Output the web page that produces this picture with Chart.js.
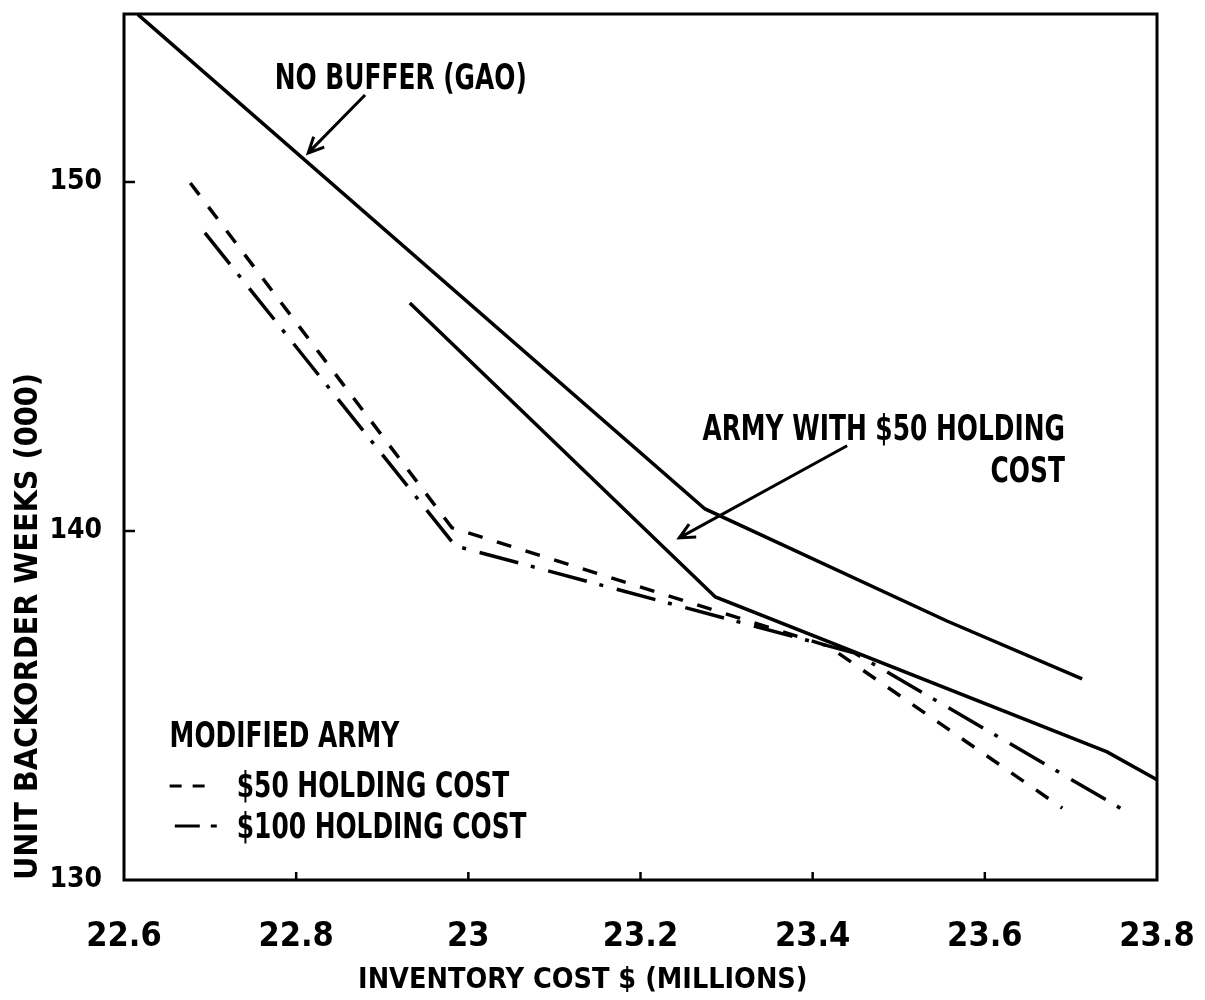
<!DOCTYPE html>
<html>
<head>
<meta charset="utf-8">
<script src="https://cdn.jsdelivr.net/npm/chart.js@4.4.1/dist/chart.umd.min.js"></script>
<style>
  html, body { margin: 0; padding: 0; background: #fff; }
</style>
</head>
<body>
<canvas id="chart" width="1205" height="1000"></canvas>
<script>
const FONT = '"DejaVu Sans Condensed", "Liberation Sans", sans-serif';

// axis ticks
const xTicks = [22.6, 22.8, 23.0, 23.2, 23.4, 23.6, 23.8];
const yTicks = [130, 140, 150];

// inventory cost ($M) vs unit backorder weeks (000)
const gaoCost = [22.616, 23.275, 23.556, 23.713];
const gaoWeeks = [154.8, 140.63, 137.42, 135.76];

const army50Cost = [22.932, 23.287, 23.742, 23.8];
const army50Weeks = [146.53, 138.11, 133.67, 132.87];

const mod50Cost = [22.677, 22.981, 23.418, 23.690];
const mod50Weeks = [149.97, 140.09, 136.70, 132.06];

const mod100Cost = [22.694, 22.985, 23.449, 23.765];
const mod100Weeks = [148.54, 139.57, 136.50, 131.95];

function pts(xs, ys) {
    return xs.map((x, i) => ({ x, y: ys[i] }));
}

function line(label, data, dash) {
    return {
        label,
        data,
        borderColor: '#000',
        borderWidth: 3.5,
        borderDash: dash,
        pointRadius: 0,
        tension: 0,
        fill: false,
    };
}

// text notes, placed in data units
const notes = [
    { text: 'NO BUFFER (GAO)', x: 22.775, y: 152.66, align: 'left' },
    { text: 'ARMY WITH $50 HOLDING', x: 23.693, y: 142.61, align: 'right' },
    { text: 'COST', x: 23.693, y: 141.40, align: 'right' },
    { text: 'MODIFIED ARMY', x: 22.653, y: 133.81, align: 'left' },
    { text: '$50 HOLDING COST', x: 22.731, y: 132.38, align: 'left' },
    { text: '$100 HOLDING COST', x: 22.731, y: 131.20, align: 'left' },
];
const arrows = [
    { from: [22.880, 152.49], to: [22.814, 150.83] },
    { from: [23.440, 142.44], to: [23.245, 139.80] },
];

const decorations = {
    id: 'decorations',
    afterDraw(chart) {
        const { ctx, chartArea: a, scales: { x, y } } = chart;
        ctx.save();
        ctx.strokeStyle = '#000';
        ctx.fillStyle = '#000';
        ctx.lineWidth = 3;
        ctx.strokeRect(a.left, a.top, a.right - a.left, a.bottom - a.top);

        // inward tick marks
        ctx.lineWidth = 2.5;
        ctx.beginPath();
        xTicks.slice(1, -1).forEach(v => {
            const px = x.getPixelForValue(v);
            ctx.moveTo(px, a.bottom);
            ctx.lineTo(px, a.bottom - 8);
        });
        yTicks.slice(1).forEach(v => {
            const py = y.getPixelForValue(v);
            ctx.moveTo(a.left, py);
            ctx.lineTo(a.left + 11, py);
        });
        ctx.stroke();

        // narrow lettering like the typed original
        ctx.font = 'bold 35px ' + FONT;
        ctx.textBaseline = 'alphabetic';
        notes.forEach(n => {
            ctx.save();
            ctx.translate(x.getPixelForValue(n.x), y.getPixelForValue(n.y));
            ctx.scale(0.79, 1);
            ctx.textAlign = n.align;
            ctx.fillText(n.text, 0, 0);
            ctx.restore();
        });

        // legend samples
        ctx.lineWidth = 3;
        ctx.setLineDash([12, 11]);
        ctx.beginPath();
        ctx.moveTo(x.getPixelForValue(22.653), y.getPixelForValue(132.69));
        ctx.lineTo(x.getPixelForValue(22.697), y.getPixelForValue(132.69));
        ctx.stroke();
        ctx.setLineDash([25, 11, 6, 20]);
        ctx.beginPath();
        ctx.moveTo(x.getPixelForValue(22.659), y.getPixelForValue(131.55));
        ctx.lineTo(x.getPixelForValue(22.712), y.getPixelForValue(131.55));
        ctx.stroke();
        ctx.setLineDash([]);

        // arrows
        ctx.lineWidth = 3;
        arrows.forEach(ar => {
            const x0 = x.getPixelForValue(ar.from[0]), y0 = y.getPixelForValue(ar.from[1]);
            const x1 = x.getPixelForValue(ar.to[0]), y1 = y.getPixelForValue(ar.to[1]);
            const ang = Math.atan2(y1 - y0, x1 - x0);
            ctx.beginPath();
            ctx.moveTo(x0, y0);
            ctx.lineTo(x1, y1);
            ctx.moveTo(x1 - 17 * Math.cos(ang - 0.45), y1 - 17 * Math.sin(ang - 0.45));
            ctx.lineTo(x1, y1);
            ctx.lineTo(x1 - 17 * Math.cos(ang + 0.45), y1 - 17 * Math.sin(ang + 0.45));
            ctx.stroke();
        });
        ctx.restore();
    }
};

new Chart(document.getElementById('chart'), {
    type: 'line',
    data: {
        datasets: [
            line('No buffer (GAO)', pts(gaoCost, gaoWeeks), []),
            line('Army with $50 holding cost', pts(army50Cost, army50Weeks), []),
            line('Modified Army $50 holding cost', pts(mod50Cost, mod50Weeks), [15, 15]),
            line('Modified Army $100 holding cost', pts(mod100Cost, mod100Weeks), [40, 13, 4, 14]),
        ],
    },
    options: {
        responsive: false,
        animation: false,
        layout: { padding: { top: 14, right: 48, left: 0, bottom: 0 } },
        plugins: { legend: { display: false }, tooltip: { enabled: false } },
        scales: {
            x: {
                type: 'linear',
                min: 22.6,
                max: 23.8,
                afterBuildTicks: s => { s.ticks = xTicks.map(v => ({ value: v })); },
                afterFit: s => { s.height = 120; s.paddingLeft = 0; s.paddingRight = 0; },
                grid: { display: false },
                border: { display: false },
                ticks: {
                    color: '#000',
                    padding: 29,
                    maxRotation: 0,
                    callback: v => String(Number(v.toFixed(1))),
                    font: { family: FONT, size: 34, weight: 'bold' },
                },
                title: {
                    display: true,
                    text: 'INVENTORY COST $ (MILLIONS)\u2002\u2002\u2002\u2002\u2002\u2002\u2002\u2002\u2002',
                    color: '#000',
                    padding: { top: 0, bottom: 2 },
                    font: { family: FONT, size: 28.5, weight: 'bold' },
                },
            },
            y: {
                type: 'linear',
                min: 130,
                max: 154.81,
                afterBuildTicks: s => { s.ticks = yTicks.map(v => ({ value: v })); },
                afterFit: s => { s.width = 124; s.paddingTop = 0; s.paddingBottom = 0; },
                grid: { display: false },
                border: { display: false },
                ticks: {
                    color: '#000',
                    padding: 14,
                    font: { family: FONT, size: 28, weight: 'bold' },
                },
                title: {
                    display: true,
                    align: 'start',
                    text: 'UNIT BACKORDER WEEKS (000)',
                    color: '#000',
                    padding: { top: 9, bottom: 0 },
                    font: { family: FONT, size: 32, weight: 'bold' },
                },
            },
        },
    },
    plugins: [decorations],
});
</script>
</body>
</html>
